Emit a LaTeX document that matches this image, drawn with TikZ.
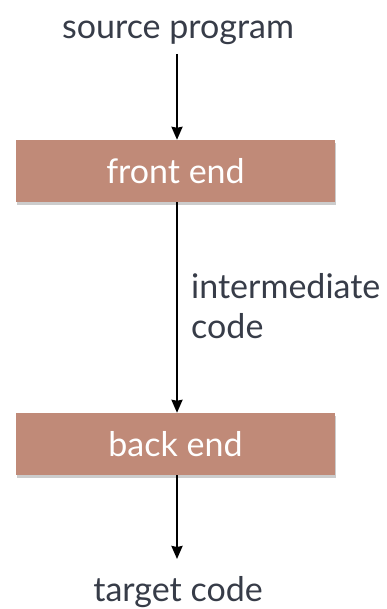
\documentclass[tikz,border=0pt]{standalone}
\usepackage{fontspec}
\setmainfont{Lato}
\usetikzlibrary{arrows.meta,shadows}
\definecolor{boxfill}{RGB}{192,138,120}
\definecolor{txt}{RGB}{55,60,72}
\tikzset{
  stage/.style={draw=none, fill=boxfill, minimum width=319pt, minimum height=62pt,
    text=white, font=\fontsize{34}{38}\selectfont, inner sep=0pt,
    drop shadow={shadow xshift=1pt, shadow yshift=-3pt, opacity=0.4}},
  label/.style={text=txt, font=\fontsize{34}{38}\selectfont, inner sep=0pt},
  flow/.style={line width=2.2pt, -{Stealth[length=13pt,width=11pt,inset=1pt]}}
}
\begin{document}
\begin{tikzpicture}[x=1pt,y=1pt]
\useasboundingbox (0,0) rectangle (386,609);
\node[label, anchor=base] (src) at (178,570) {source program};
\node[stage] (fe) at (175.5,438) {front end};
\node[stage] (be) at (175.5,165) {back end};
\node[label, anchor=base] (tgt) at (178,8) {target code};
\node[label, anchor=base west] (ic1) at (191,310) {intermediate};
\node[label, anchor=base west] (ic2) at (191,270) {code};
\coordinate (s) at (177,555);
\coordinate (e) at (177,50);
\draw[flow] (s) -- (s |- fe.north);
\draw[flow] (fe.south -| s) -- (s |- be.north);
\draw[flow] (be.south -| s) -- (e);
\end{tikzpicture}
\end{document}
